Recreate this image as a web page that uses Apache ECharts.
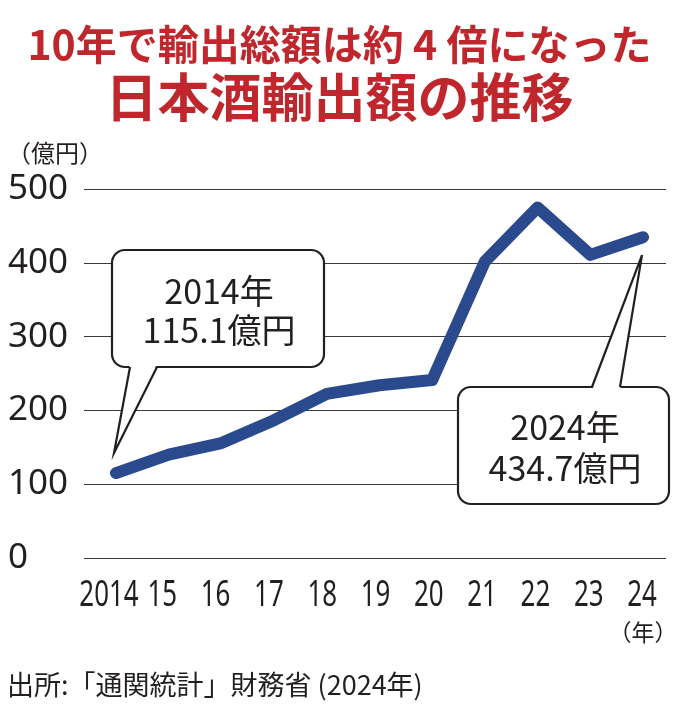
<!DOCTYPE html>
<html>
<head>
<meta charset="utf-8">
<script src="https://cdn.jsdelivr.net/npm/echarts@6/dist/echarts.min.js"></script>
<style>
  html, body { margin: 0; padding: 0; background: #fff; }
  #chart { width: 679px; height: 709px; }
</style>
</head>
<body>
<div id="chart"></div>
<script>
var years = ['2014', '15', '16', '17', '18', '19', '20', '21', '22', '23', '24'];
var exportValues = [115.1, 140.0, 155.8, 186.8, 222.3, 234.1, 241.2, 401.8, 475.0, 410.8, 434.7];
var yMin = 0, yMax = 500, yStep = 100;
var firstNote = ['2014年', '115.1億円'];
var lastNote = ['2024年', '434.7億円'];

var CJK = '"Noto Sans CJK JP", "Noto Sans", sans-serif';
var RED = '#c0272d';
var INK = '#231f20';

var chart = echarts.init(document.getElementById('chart'));

chart.setOption({
  animation: false,
  backgroundColor: '#fff',
  title: [
    {
      text: '10年で輸出総額は約 4 倍になった',
      left: 'center', top: 19,
      textStyle: { fontFamily: CJK, fontSize: 41, fontWeight: 'bold', color: RED }
    },
    {
      text: '日本酒輸出額の推移',
      left: 'center', top: 66,
      textStyle: { fontFamily: CJK, fontSize: 52, fontWeight: 'bold', color: RED }
    }
  ],
  grid: [
    // gridlines + value labels
    { left: 84, right: 13, top: 189, bottom: 151 },
    // the line itself
    { left: 116, right: 36, top: 189, bottom: 151 },
    // year label positions
    { left: 109, right: 37, top: 189, bottom: 151 }
  ],
  xAxis: [
    { gridIndex: 0, type: 'category', data: years, show: false },
    { gridIndex: 1, type: 'category', data: years, boundaryGap: false, show: false },
    { gridIndex: 2, type: 'category', data: years, boundaryGap: false, show: false }
  ],
  yAxis: [
    {
      gridIndex: 0, type: 'value', min: yMin, max: yMax, interval: yStep,
      axisLine: { show: false }, axisTick: { show: false },
      splitLine: { lineStyle: { color: '#3a3a3a', width: 1.2 } },
      axisLabel: {
        align: 'left', margin: 76,
        fontFamily: '"Noto Sans", sans-serif', fontSize: 35, color: INK
      }
    },
    { gridIndex: 1, type: 'value', min: yMin, max: yMax, interval: yStep, show: false },
    { gridIndex: 2, type: 'value', min: yMin, max: yMax, interval: yStep, show: false }
  ],
  series: [{
    type: 'line',
    xAxisIndex: 1, yAxisIndex: 1,
    data: exportValues,
    symbol: 'none',
    lineStyle: { color: '#2b4a8e', width: 12, cap: 'round', join: 'round' },
    z: 3
  }]
});

// callout boxes, tails point at the first and last data points
function callout(box, tail, lines, pt, apexOff) {
  var apex = [pt[0] + apexOff[0], pt[1] + apexOff[1]];
  var inside = tail.y > box.y + box.height / 2 ? -3 : 3;
  return [
    {
      type: 'rect', z: 10,
      shape: { x: box.x, y: box.y, width: box.width, height: box.height, r: 13 },
      style: { fill: '#fff', stroke: INK, lineWidth: 2.2 }
    },
    {
      type: 'polygon', z: 11,
      shape: { points: [[tail.x1, tail.y + inside], apex, [tail.x2, tail.y + inside]] },
      style: { fill: '#fff', stroke: null }
    },
    {
      type: 'polyline', z: 12,
      shape: { points: [[tail.x1, tail.y], apex, [tail.x2, tail.y]] },
      style: { fill: null, stroke: INK, lineWidth: 2.2, lineJoin: 'miter' }
    },
    {
      type: 'text', z: 13, x: box.cx, y: box.t1,
      style: { text: lines[0], fontFamily: CJK, fontSize: 34, fill: INK, align: 'center', verticalAlign: 'middle' }
    },
    {
      type: 'text', z: 13, x: box.cx, y: box.t2,
      style: { text: lines[1], fontFamily: CJK, fontSize: 34, fill: INK, align: 'center', verticalAlign: 'middle' }
    }
  ];
}

var last = years.length - 1;
var p0 = chart.convertToPixel({ xAxisIndex: 1, yAxisIndex: 1 }, [0, exportValues[0]]);
var p1 = chart.convertToPixel({ xAxisIndex: 1, yAxisIndex: 1 }, [last, exportValues[last]]);

// year labels: condensed look via horizontal scaling (no narrow font installed)
var yearLabels = years.map(function(y, i) {
  return {
    type: 'text', z: 5,
    x: chart.convertToPixel({ xAxisIndex: 2 }, i), y: 595,
    scaleX: 0.7,
    style: { text: y, fontFamily: '"Noto Sans", sans-serif', fontSize: 37, fill: INK, align: 'center', verticalAlign: 'middle' }
  };
});

var elements = [
  {
    type: 'text', left: 7, top: 141,
    style: { text: '（億円）', fontFamily: CJK, fontSize: 24, fill: INK }
  },
  {
    type: 'text', x: 643, y: 632,
    style: { text: '（年）', fontFamily: CJK, fontSize: 23, fill: INK, align: 'center', verticalAlign: 'middle' }
  },
  {
    type: 'text', left: 7, top: 671,
    style: { text: '出所:「通関統計」財務省 (2024年)', fontFamily: CJK, fontSize: 27, fill: INK }
  }
].concat(
  yearLabels,
  callout({ x: 112, y: 250, width: 212, height: 117, cx: 219, t1: 291, t2: 330 },
          { x1: 130, x2: 157, y: 367 }, firstNote, p0, [-2, -20]),
  callout({ x: 458, y: 387, width: 211, height: 117, cx: 565, t1: 427, t2: 468 },
          { x1: 592, x2: 620, y: 387 }, lastNote, p1, [-1, 18])
);

chart.setOption({ graphic: { elements: elements } });
</script>
</body>
</html>
